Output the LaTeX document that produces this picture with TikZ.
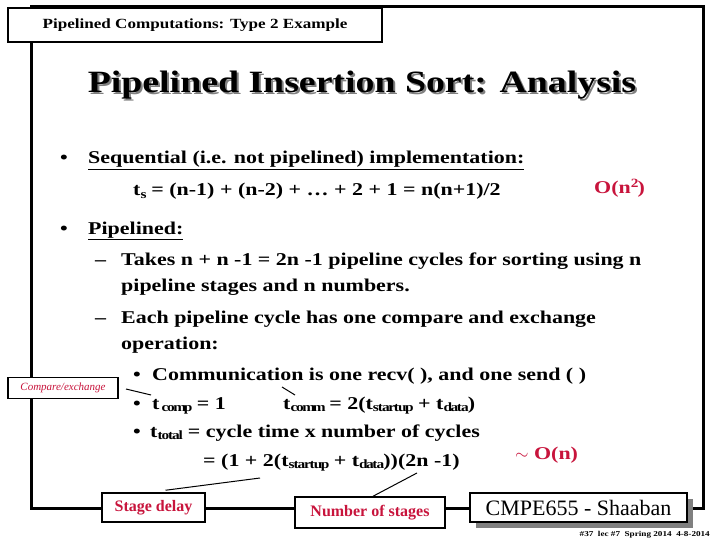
\documentclass[tikz,border=0pt]{standalone}
\usepackage{fontspec}
\setmainfont{Liberation Serif}[FakeStretch=1.22]
\newfontfamily\plainfont{Liberation Serif}
\usepackage{tikz}
\definecolor{crimson}{RGB}{200,20,60}
\tikzset{
  tag/.style={draw, line width=1.5pt, fill=white, inner sep=0pt},
  body/.style={anchor=base west, font=\fontsize{18}{20}\selectfont\bfseries, inner sep=0pt},
  redtext/.style={text=crimson}
}
\begin{document}
\begin{tikzpicture}[x=1pt, y=-1pt]
  \useasboundingbox (0,0) rectangle (720,540);
  % frame
  \draw[line width=3pt] (31,7) rectangle (703,508);

  % header and title
  \node[tag, minimum width=374pt, minimum height=34pt, font=\fontsize{14}{16}\selectfont\bfseries] (hdr) at (195,25) {Pipelined Computations: Type 2 Example};
  \node[font=\fontsize{31}{34}\selectfont\bfseries, text=gray] (shadow) at (364,87) {Pipelined Insertion Sort: Analysis};
  \node[font=\fontsize{31}{34}\selectfont\bfseries] (title) at (362,85) {Pipelined Insertion Sort: Analysis};

  % sequential
  \node[body] (b1) at (60,164) {\textbullet};
  \node[body] (seq) at (88,164) {\underline{Sequential (i.e. not pipelined) implementation:}};
  \node[body] (ts) at (133,196) {t$_\mathbf{s}$ = (n-1) + (n-2) + \dots\ + 2 + 1 =\ n(n+1)/2};
  \node[body, redtext] (on2) at (594,194) {O(n$^\mathbf{2}$)};
  \node[body] (b2) at (60,234) {\textbullet};
  \node[body] (pip) at (88,234) {\underline{Pipelined:}};

  % pipelined
  \node[body] (d1) at (95,265) {--};
  \node[body] (takes) at (121,265) {Takes n + n -1 = 2n -1 pipeline cycles for sorting using n};
  \node[body] (takes2) at (121,291) {pipeline stages and n numbers.};
  \node[body] (d2) at (95,323) {--};
  \node[body] (each) at (121,323) {Each pipeline cycle has one compare and exchange};
  \node[body] (each2) at (121,349) {operation:};

  % costs
  \node[body] at (133,380) {\textbullet};
  \node[body] (comm) at (152,380) {Communication is one recv( ), and one send ( )};
  \node[body] at (133,409) {\textbullet};
  \node[body] (tcomp) at (152,409) {t$_\mathbf{\,comp}$ = 1};
  \node[body] (tcomm) at (283,409) {t$_\mathbf{comm}$ = 2(t$_\mathbf{startup}$ + t$_\mathbf{data}$)};
  \node[body] at (133,437) {\textbullet};
  \node[body] (ttot) at (150,437) {t$_\mathbf{total}$ = cycle time x\ number of cycles};
  \node[body] (eq) at (203,466) {=\ (1 + 2(t$_\mathbf{startup}$ + t$_\mathbf{data}$))(2n -1)};
  \node[body, redtext] (on) at (515,459) {$\sim$\ O(n)};

  % callouts
  \node[tag, minimum width=110pt, minimum height=21pt, font=\plainfont\fontsize{11}{12}\selectfont\itshape, text=crimson] (cx) at (63,388) {Compare/exchange};
  \draw[line width=1pt] (126,389) -- (151,395);
  \draw[line width=1pt] (282,387) -- (295,395);
  \node[tag, minimum width=103pt, minimum height=29pt, font=\plainfont\fontsize{16}{18}\selectfont\bfseries, text=crimson] (sd) at (153.5,507.5) {Stage delay};
  \draw[line width=1pt] (sd.north) ++(12,-2) -- (260,478);
  \node[tag, minimum width=150pt, minimum height=31pt, font=\plainfont\fontsize{16}{18}\selectfont\bfseries, text=crimson] (ns) at (370,512.5) {Number of stages};
  \draw[line width=1pt] (ns.north) ++(3,0) -- (417,473);

  % footer
  \fill[gray] (476,499) rectangle (693,528);
  \node[tag, minimum width=217pt, minimum height=29pt, font=\plainfont\fontsize{22}{24}\selectfont] (cmpe) at (578.5,507.5) {CMPE655 - Shaaban};
  \node[anchor=base east, font=\fontsize{7.5}{8}\selectfont\bfseries, inner sep=0pt] (foot) at (710,536) {\#37\ \ lec \#7\ \ Spring 2014\ \ 4-8-2014};
\end{tikzpicture}
\end{document}
